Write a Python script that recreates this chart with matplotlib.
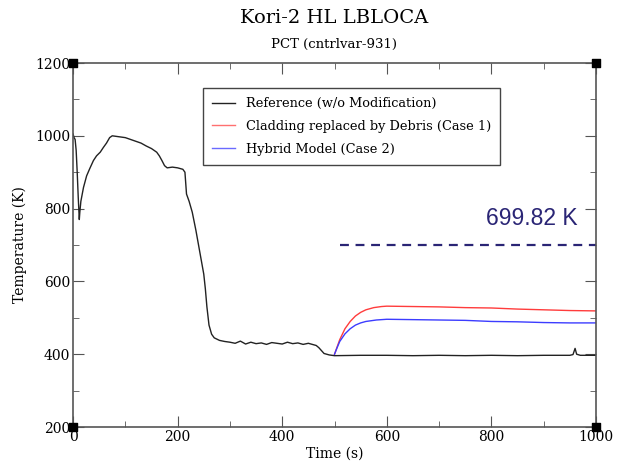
import numpy as np
import matplotlib.pyplot as plt
from matplotlib.ticker import MultipleLocator

# Reference run (w/o modification)
ref_t = [0, 2, 4, 6, 8, 10, 12, 13, 15, 20, 26, 32, 39, 45, 52, 58, 64, 70, 75,
         85, 100, 110, 120, 130, 140, 150, 160, 165, 170, 175, 180, 190, 200, 210,
         214, 217, 222, 228, 235, 240, 245, 250, 253, 256, 260, 265, 270, 280, 290,
         300, 310, 320, 330, 340, 350, 360, 370, 380, 390, 400, 410, 420, 430, 440,
         450, 460, 465, 470, 475, 480, 490, 500, 550, 600, 650, 700, 750, 800, 850,
         900, 950, 956, 960, 963, 970, 1000]
ref_T = [1005, 995, 990, 960, 900, 830, 770, 790, 820, 858, 890, 910, 932, 945,
         955, 968, 980, 995, 1000, 998, 995, 990, 985, 980, 972, 965, 955, 945,
         932, 918, 912, 914, 912, 908, 900, 840, 820, 790, 740, 700, 660, 620, 580,
         530, 480, 455, 445, 438, 435, 433, 430, 436, 428, 433, 429, 431, 427, 432,
         430, 428, 433, 429, 431, 427, 430, 426, 424, 418, 410, 402, 398, 396, 397,
         397, 396, 397, 396, 397, 396, 397, 397, 399, 416, 400, 397, 397]

# Case 1: cladding replaced by debris
c1_t = [500, 505, 510, 520, 530, 540, 550, 560, 575, 590, 600, 650, 700, 750, 800,
        850, 900, 950, 1000]
c1_T = [400, 420, 440, 470, 490, 505, 515, 522, 528, 531, 532, 531, 530, 528, 527,
        524, 522, 520, 519]

# Case 2: hybrid model
c2_t = [500, 505, 510, 520, 530, 540, 550, 560, 580, 600, 650, 700, 750, 800, 850,
        900, 950, 1000]
c2_T = [400, 418, 435, 456, 470, 480, 486, 490, 494, 496, 495, 494, 493, 490, 489,
        487, 486, 486]

limit_T = 699.82
limit_t = [510, 1000]

plt.rcParams['font.family'] = ['DejaVu Serif']

fig = plt.figure(figsize=(6.22, 4.72), dpi=100)
ax = fig.add_axes([0.1174, 0.0953, 0.8408, 0.7712])

ax.plot(ref_t, ref_T, color='#222222', lw=1.0, label='Reference (w/o Modification)')
ax.plot(c1_t, c1_T, color='#ff3c3c', lw=1.0, label='Cladding replaced by Debris (Case 1)')
ax.plot(c2_t, c2_T, color='#3c3cff', lw=1.0, label='Hybrid Model (Case 2)')
ax.plot(limit_t, [limit_T, limit_T], color='#2a2575', lw=1.6, ls=(0, (4, 3)))
ax.text(965, 741, '%.2f K' % limit_T, color='#2a2575', fontsize=16.5,
        family='Liberation Sans', ha='right', va='bottom')

ax.set_xlim(0, 1000)
ax.set_ylim(200, 1200)
ax.xaxis.set_major_locator(MultipleLocator(200))
ax.xaxis.set_minor_locator(MultipleLocator(100))
ax.yaxis.set_major_locator(MultipleLocator(200))
ax.yaxis.set_minor_locator(MultipleLocator(100))
ax.tick_params(which='both', direction='in', top=True, right=True, color='#555555',
               labelsize=10, pad=2)
ax.tick_params(which='major', length=8)
ax.tick_params(which='minor', length=4)
for s in ax.spines.values():
    s.set_color('#555555')
    s.set_linewidth(1.2)

ax.scatter([0, 1000, 0, 1000], [200, 200, 1200, 1200], marker='s', s=36,
           color='black', clip_on=False, zorder=5)

ax.set_xlabel('Time (s)', fontsize=10, labelpad=2)
ax.set_ylabel('Temperature (K)', fontsize=10, labelpad=6)
fig.text(0.537, 0.962, 'Kori-2 HL LBLOCA', ha='center', va='center', fontsize=14)
fig.text(0.537, 0.905, 'PCT (cntrlvar-931)', ha='center', va='center', fontsize=9.5)

leg = ax.legend(loc='upper left', bbox_to_anchor=(0.2486, 0.931), fontsize=9.3,
                fancybox=False, framealpha=1, edgecolor='#444444', handlelength=1.8,
                borderpad=0.7, labelspacing=0.75, borderaxespad=0)
leg.get_frame().set_linewidth(1.0)
for h, c in zip(leg.get_lines(), ['#222222', '#ff7070', '#6a6aff']):
    h.set_color(c)

fig.savefig('out.png', dpi=100)
